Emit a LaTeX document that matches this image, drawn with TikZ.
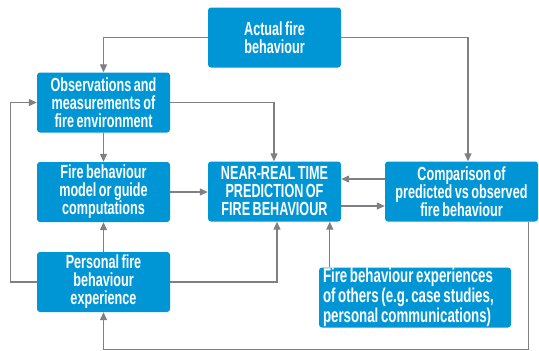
\documentclass[tikz,border=0pt]{standalone}
\usepackage{fontspec}
\setmainfont{Liberation Sans}[FakeStretch=0.665, WordSpace=0.7]
\usetikzlibrary{arrows.meta}

\definecolor{boxblue}{RGB}{0,150,214}
\definecolor{linegray}{RGB}{128,128,132}

\begin{document}
\frenchspacing
\begin{tikzpicture}[
  x=1pt, y=-1pt,
  box/.style={
    fill=boxblue, rounded corners=3pt, text=white,
    font=\fontsize{19}{18}\selectfont\bfseries,
    align=center, inner sep=0pt,
    minimum width=133pt, minimum height=60pt,
  },
  link/.style={
    draw=linegray, line width=1.3pt,
    -{Triangle[length=8pt,width=7pt]},
  },
]

  \useasboundingbox (0,0) rectangle (539,351);

  \node [box] (actual) at (274.5,37.5) {Actual fire\\behaviour};
  \node [box] (obs) at (103.5,102.5) {Observations and\\measurements of\\fire environment};
  \node [box] (model) at (103.5,192) {Fire behaviour\\model or guide\\computations};
  \node [box] (personal) at (103.5,282) {Personal fire\\behaviour\\experience};
  \node [box] (nrt) at (274.5,191.5) {NEAR-REAL TIME\\PREDICTION OF\\FIRE BEHAVIOUR};
  \node [box, minimum width=153pt] (comp) at (461.5,191.5)
    {Comparison of\\predicted vs observed\\fire behaviour};
  \node [box, minimum width=192pt, align=flush left, text width=184pt,
    font=\fontsize{20}{18}\selectfont\bfseries] (others) at (415,297.5)
    {Fire behaviour experiences\\of others (e.g. case studies,\\personal communications)};

  % from the fire itself
  \draw [link] (actual.west) -| (obs.north);
  \draw [link] (actual.east) -| ([xshift=6.5pt]comp.north);

  % left column
  \draw [link] (obs.east) -| ([xshift=-0.5pt]nrt.north);
  \draw [link] (obs) -- (model);
  \draw [link] (personal) -- (model);
  \draw [link] (model.east) -- (model.east -| nrt.west);
  \draw [link] (personal.west) -- ++(-26,0) |- (obs.west);
  \draw [link] (personal.east) -| ([xshift=2.5pt]nrt.south);

  % right side
  \draw [link] ([xshift=11pt]others.north west) -- ([xshift=11pt]others.north west |- nrt.south);
  \draw [link] ([yshift=12.5pt]comp.west) -- ([yshift=12.5pt]comp.west -| nrt.east);
  \draw [link] ([yshift=-14.5pt]nrt.east) -- ([yshift=-14.5pt]nrt.east -| comp.west);
  \draw [link] ([xshift=-10pt]comp.south east) |- ([yshift=-37pt]personal.south) -- (personal.south);

\end{tikzpicture}
\end{document}
